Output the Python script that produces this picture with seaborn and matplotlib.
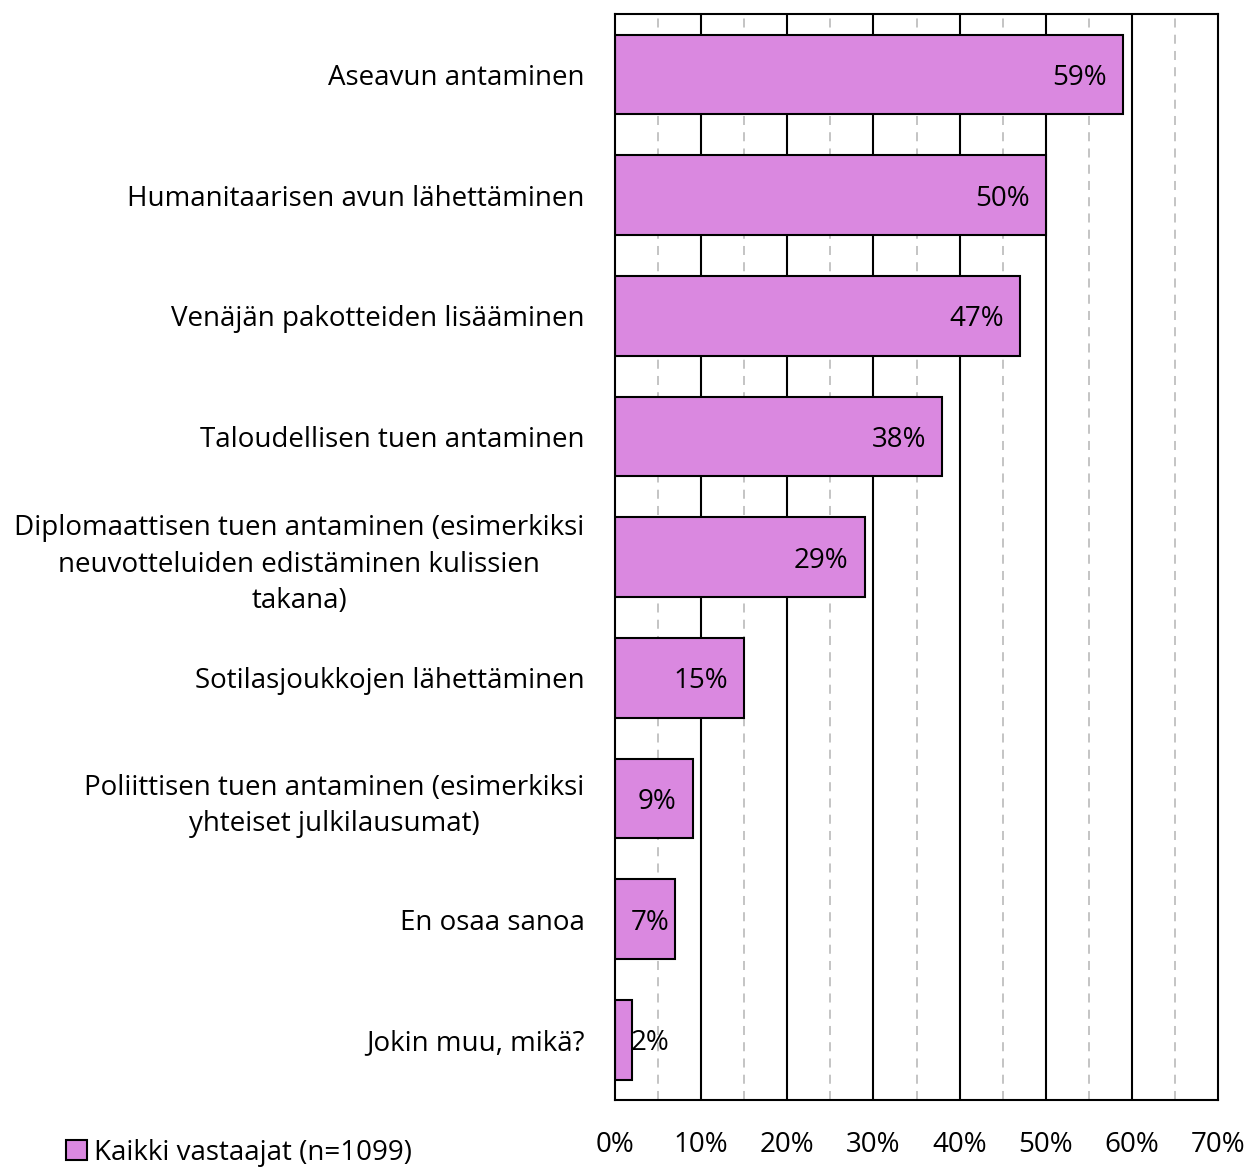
import pandas as pd
import seaborn as sns
import matplotlib.pyplot as plt
from matplotlib.patches import Patch

# chart data
categories = [
    "Aseavun antaminen",
    "Humanitaarisen avun lähettäminen",
    "Venäjän pakotteiden lisääminen",
    "Taloudellisen tuen antaminen",
    "Diplomaattisen tuen antaminen (esimerkiksi\nneuvotteluiden edistäminen kulissien\ntakana)",
    "Sotilasjoukkojen lähettäminen",
    "Poliittisen tuen antaminen (esimerkiksi\nyhteiset julkilausumat)",
    "En osaa sanoa",
    "Jokin muu, mikä?",
]
values = [59, 50, 47, 38, 29, 15, 9, 7, 2]
series_name = "Kaikki vastaajat (n=1099)"
x_ticks = [0, 10, 20, 30, 40, 50, 60, 70]

df = pd.DataFrame({"Vaihtoehto": categories, "Osuus": values})

sns.set_style("white")
plt.rcParams['font.family'] = ['Open Sans', 'DejaVu Sans']
plt.rcParams['text.color'] = 'black'
plt.rcParams['xtick.color'] = 'black'
plt.rcParams['ytick.color'] = 'black'

bar_color = "#DA88E0"
fs = 20

fig = plt.figure(figsize=(12.49, 11.73), dpi=100)
ax = fig.add_axes([0.4924, 0.0622, 0.4828, 0.9258])

# grid: dashed minor lines at 5%, solid major lines at 10%
for v in range(5, 70, 10):
    ax.axvline(v, color="#bfbfbf", lw=1.3, ls=(0, (5, 4)), zorder=0)
for v in range(10, 70, 10):
    ax.axvline(v, color="black", lw=1.5, zorder=0)

sns.barplot(data=df, x="Osuus", y="Vaihtoehto", color=bar_color, width=0.66,
            edgecolor="black", linewidth=1.5, saturation=1, ax=ax, zorder=2)

ax.set_xlim(0, 70)
ax.set_xticks(x_ticks)
ax.set_xticklabels([f"{t}%" for t in x_ticks], fontsize=fs)
ax.tick_params(axis="x", length=0, pad=22)
ax.tick_params(axis="y", length=0, pad=22, labelsize=fs)
for lab in ax.get_yticklabels():
    lab.set_multialignment("center")
    lab.set_linespacing(1.4)
ax.set_xlabel("")
ax.set_ylabel("")

for s in ax.spines.values():
    s.set_visible(True)
    s.set_color("black")
    s.set_linewidth(1.5)

# value labels (inside end, small bars get less padding)
for i, v in enumerate(values):
    if v >= 8:
        ax.text(v - 1.9, i, f"{v}%", ha="right", va="center_baseline", fontsize=fs, zorder=3)
    elif v >= 5:
        ax.text(v - 0.7, i, f"{v}%", ha="right", va="center_baseline", fontsize=fs, zorder=3)
    else:
        ax.text(v - 0.2, i, f"{v}%", ha="left", va="center_baseline", fontsize=fs, zorder=3)

handle = Patch(facecolor=bar_color, edgecolor="black", linewidth=1.5)
fig.legend([handle], [series_name], loc="lower left", bbox_to_anchor=(0.033, -0.016),
           frameon=False, fontsize=fs, handlelength=0.75, handleheight=0.75,
           handletextpad=0.25)

fig.savefig("out.png", dpi=100)
